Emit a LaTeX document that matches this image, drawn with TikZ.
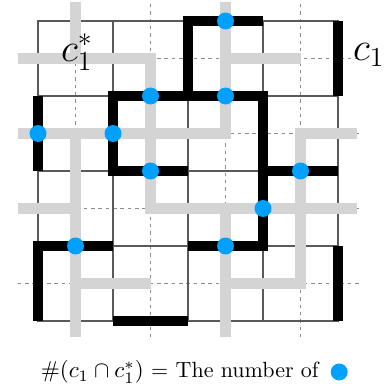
\documentclass[tikz,border=0pt]{standalone}
\usepackage{amsmath}
\usepackage{amssymb}
\usetikzlibrary{positioning}
\definecolor{dotblue}{RGB}{0,160,255}
\definecolor{duallight}{RGB}{212,212,212}
\definecolor{gridgrey}{RGB}{90,90,90}
\tikzset{
    gridline/.style={draw=gridgrey, line width=0.5pt},
    dualline/.style={draw=gray!90, dash pattern=on 1.5pt off 1.7pt, line width=0.5pt},
    curveblack/.style={draw=black, line width=4.4pt, line join=miter},
    curvedual/.style={draw=duallight, line width=4.4pt},
    meet/.style={circle, fill=dotblue, inner sep=0pt, minimum size=0.26cm},
    curvelbl/.style={font=\LARGE, inner sep=0pt},
    captionlbl/.style={font=\fontsize{9.6}{11}\selectfont, inner sep=0pt}
}

\begin{document}
\begin{tikzpicture}[x=1.15cm, y=1.15cm]
    \useasboundingbox (-0.507,-0.947) rectangle (4.653,4.28);
    % === Dual lattice (dashed) ===
    \foreach \t in {0.5,1.5,2.5,3.5} {
        \draw[dualline] (\t,-0.22) -- (\t,4.27);
        \draw[dualline] (-0.27,\t) -- (4.29,\t);
    }
    % === Square lattice ===
    \foreach \i in {0,...,3} {
        \foreach \j in {0,...,3} {
            \draw[gridline] (\i,\j) rectangle ++(1,1);
        }
    }
    % === Dual curve c1* ===
    \draw[curvedual] (-0.27,3.5) -- (1.5,3.5) -- (1.5,1.5) -- (4.25,1.5);
    \draw[curvedual] (0.5,4.25) -- (0.5,3.5);
    \draw[curvedual] (-0.27,2.5) -- (2.5,2.5) -- (2.5,4.25);
    \draw[curvedual] (2.5,3.5) -- (3.5,3.5);
    \draw[curvedual] (0.5,2.5) -- (0.5,-0.22);
    \draw[curvedual] (-0.27,1.5) -- (0.5,1.5);
    \draw[curvedual] (0.5,0.5) -- (1.5,0.5);
    \draw[curvedual] (4.25,2.5) -- (3.5,2.5) -- (3.5,0.5) -- (2.5,0.5);
    \draw[curvedual] (2.5,1.5) -- (2.5,-0.22);
    % === Curve c1 ===
    \draw[curveblack] (0,2) -- (0,3);
    \draw[curveblack] (2,2) -- (1,2) -- (1,3) -- (3,3) -- (3,1) -- (2,1);
    \draw[curveblack] (2,3) -- (2,4) -- (3,4);
    \draw[curveblack] (3,2) -- (4,2);
    \draw[curveblack] (4,3) -- (4,4);
    \draw[curveblack] (1,1) -- (0,1) -- (0,0);
    \draw[curveblack] (1,0) -- (2,0);
    \draw[curveblack] (4,0) -- (4,1);
    % === Intersections ===
    \node[meet] (m1) at (2.5,4) {};
    \node[meet] (m2) at (1.5,3) {};
    \node[meet] (m3) at (2.5,3) {};
    \node[meet] (m4) at (0,2.5) {};
    \node[meet] (m5) at (1,2.5) {};
    \node[meet] (m6) at (1.5,2) {};
    \node[meet] (m7) at (3.5,2) {};
    \node[meet] (m8) at (3,1.5) {};
    \node[meet] (m9) at (0.5,1) {};
    \node[meet] (m10) at (2.5,1) {};
    % === Labels ===
    \node[curvelbl] (lbldual) at (0.52,3.58) {$c_1^*$};
    \node[curvelbl] (lblcurve) at (4.41,3.55) {$c_1$};
    \node[captionlbl] (caption) at (1.89,-0.68) {$\#(c_1\cap c_1^*)$ = The number of};
    \node[meet, right=0.17cm of caption] (legend) {};
\end{tikzpicture}
\end{document}
